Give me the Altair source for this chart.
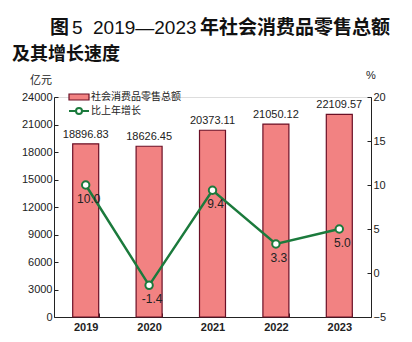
import altair as alt
import pandas as pd

years = ["2019", "2020", "2021", "2022", "2023"]
sales = [18896.83, 18626.45, 20373.11, 21050.12, 22109.57]
growth = [10.0, -1.4, 9.4, 3.3, 5.0]
sales_labels = ["18896.83", "18626.45", "20373.11", "21050.12", "22109.57"]
growth_labels = ["10.0", "-1.4", "9.4", "3.3", "5.0"]

df = pd.DataFrame({
    "year": years, "sales": sales, "growth": growth,
    "slab": sales_labels, "glab": growth_labels,
    "s1": ["社会消费品零售总额"] * 5, "s2": ["比上年增长"] * 5,
})

FONT = "Liberation Sans"
CJK = "Noto Sans CJK SC"
BAR = "#F28282"
BAR_STROKE = "#6a0f25"
GREEN = "#1B7A3C"

x = alt.X("year:N", title=None, scale=alt.Scale(paddingInner=0.59, paddingOuter=0.295),
          axis=alt.Axis(labelAngle=0, labelFont=FONT, labelFontSize=11, labelFontWeight="bold",
                        labelColor="#222", domainColor="#222", tickColor="#222",
                        tickBand="extent", tickSize={"expr": "-4"}, labelPadding=8))

yl = alt.Y("sales:Q", title=None,
           scale=alt.Scale(domain=[0, 24000], nice=False),
           axis=alt.Axis(values=list(range(0, 24001, 3000)), format="d", labelOverlap=False,
                         labelFont=FONT, labelFontSize=11,
                         labelColor="#222", domainColor="#222", tickColor="#222",
                         tickSize={"expr": "-4"}, grid=False, labelPadding=6))

yr = alt.Y("growth:Q", title=None, scale=alt.Scale(domain=[-5, 20], nice=False),
           axis=alt.Axis(orient="right", values=[-5, 0, 5, 10, 15, 20], labelFont=FONT,
                         labelOverlap=False,
                         labelFontSize=11, labelColor="#222", domainColor="#222",
                         tickColor="#222", tickSize={"expr": "-4"}, grid=False, labelPadding=6))

bars = alt.Chart(df).mark_bar(stroke=BAR_STROKE, strokeWidth=1.2).encode(
    x=x,
    y=yl,
    fill=alt.Fill("s1:N", title=None,
                  scale=alt.Scale(range=[BAR]),
                  legend=alt.Legend(orient="none", legendX=19, legendY=-6, padding=0,
                                    symbolType="M-2,-0.6H2V0.6H-2Z", symbolSize=100,
                                    symbolStrokeColor=BAR_STROKE, symbolStrokeWidth=1.2,
                                    labelFont=CJK, labelFontSize=10, labelColor="#222",
                                    labelOffset=6)),
)

bar_text = alt.Chart(df).mark_text(dy=-9, font=FONT, fontSize=11, color="#222").encode(
    x="year:N", y=yl, text="slab:N")

line = alt.Chart(df).mark_line(strokeWidth=2.5, color=GREEN).encode(x="year:N", y=yr)

pts = alt.Chart(df).mark_point(filled=True, fill="white", size=55, strokeWidth=2, opacity=1).encode(
    x="year:N",
    y=yr,
    stroke=alt.Stroke("s2:N", title=None, scale=alt.Scale(range=[GREEN]),
                      legend=alt.Legend(orient="none", legendX=19, legendY=8, padding=0,
                                        symbolType="M-2,0H-0.6M0.6,0H2M-0.6,0A0.6,0.6 0 1,0 0.6,0A0.6,0.6 0 1,0 -0.6,0",
                                        symbolSize=100, symbolFillColor="white",
                                        symbolStrokeWidth=2,
                                        labelFont=CJK, labelFontSize=10, labelColor="#222",
                                        labelOffset=6)),
)

pt_text = alt.Chart(df).mark_text(dx=3, dy=14, font=FONT, fontSize=12, color="#222").encode(
    x="year:N", y=yr, text="glab:N")


def txt(s, xv, yv, font, size, weight="bold"):
    return alt.Chart(pd.DataFrame({"t": [s]})).mark_text(
        align="left", baseline="alphabetic", font=font, fontSize=size,
        fontWeight=weight, color="#111").encode(x=alt.value(xv), y=alt.value(yv), text="t:N")


title_a = txt("图", -4, -63, CJK, 19)
title_b = txt("5", 18, -63, FONT, 19, "normal")
title_c = txt("2019—2023", 39, -63, FONT, 19, "normal")
title_d = txt("年社会消费品零售总额", 146, -63, CJK, 19)
title_e = txt("及其增长速度", -42, -37, CJK, 18)

u1 = alt.Chart(pd.DataFrame({"t": ["亿元"]})).mark_text(align="left", font=CJK, fontSize=11,
                                                        color="#222").encode(
    x=alt.value(-24), y=alt.value(-16), text="t:N")
u2 = alt.Chart(pd.DataFrame({"t": ["%"]})).mark_text(align="left", font=FONT, fontSize=11,
                                                     color="#222").encode(
    x=alt.value(312), y=alt.value(-21), text="t:N")

left = alt.layer(bars, bar_text)
right = alt.layer(line, pts, pt_text)
chart = alt.layer(left, right, title_a, title_b, title_c, title_d, title_e, u1, u2).resolve_scale(
    y="independent", fill="independent", stroke="independent"
).properties(
    width=317, height=220,
    autosize=alt.AutoSizeParams(type="none"),
    padding={"left": 54, "top": 97, "right": 41, "bottom": 25},
).configure_view(stroke=None).configure_axis(labelOverlap=False).configure(background="white")

chart.save("out.html", embed_options={"renderer": "svg", "actions": False})
